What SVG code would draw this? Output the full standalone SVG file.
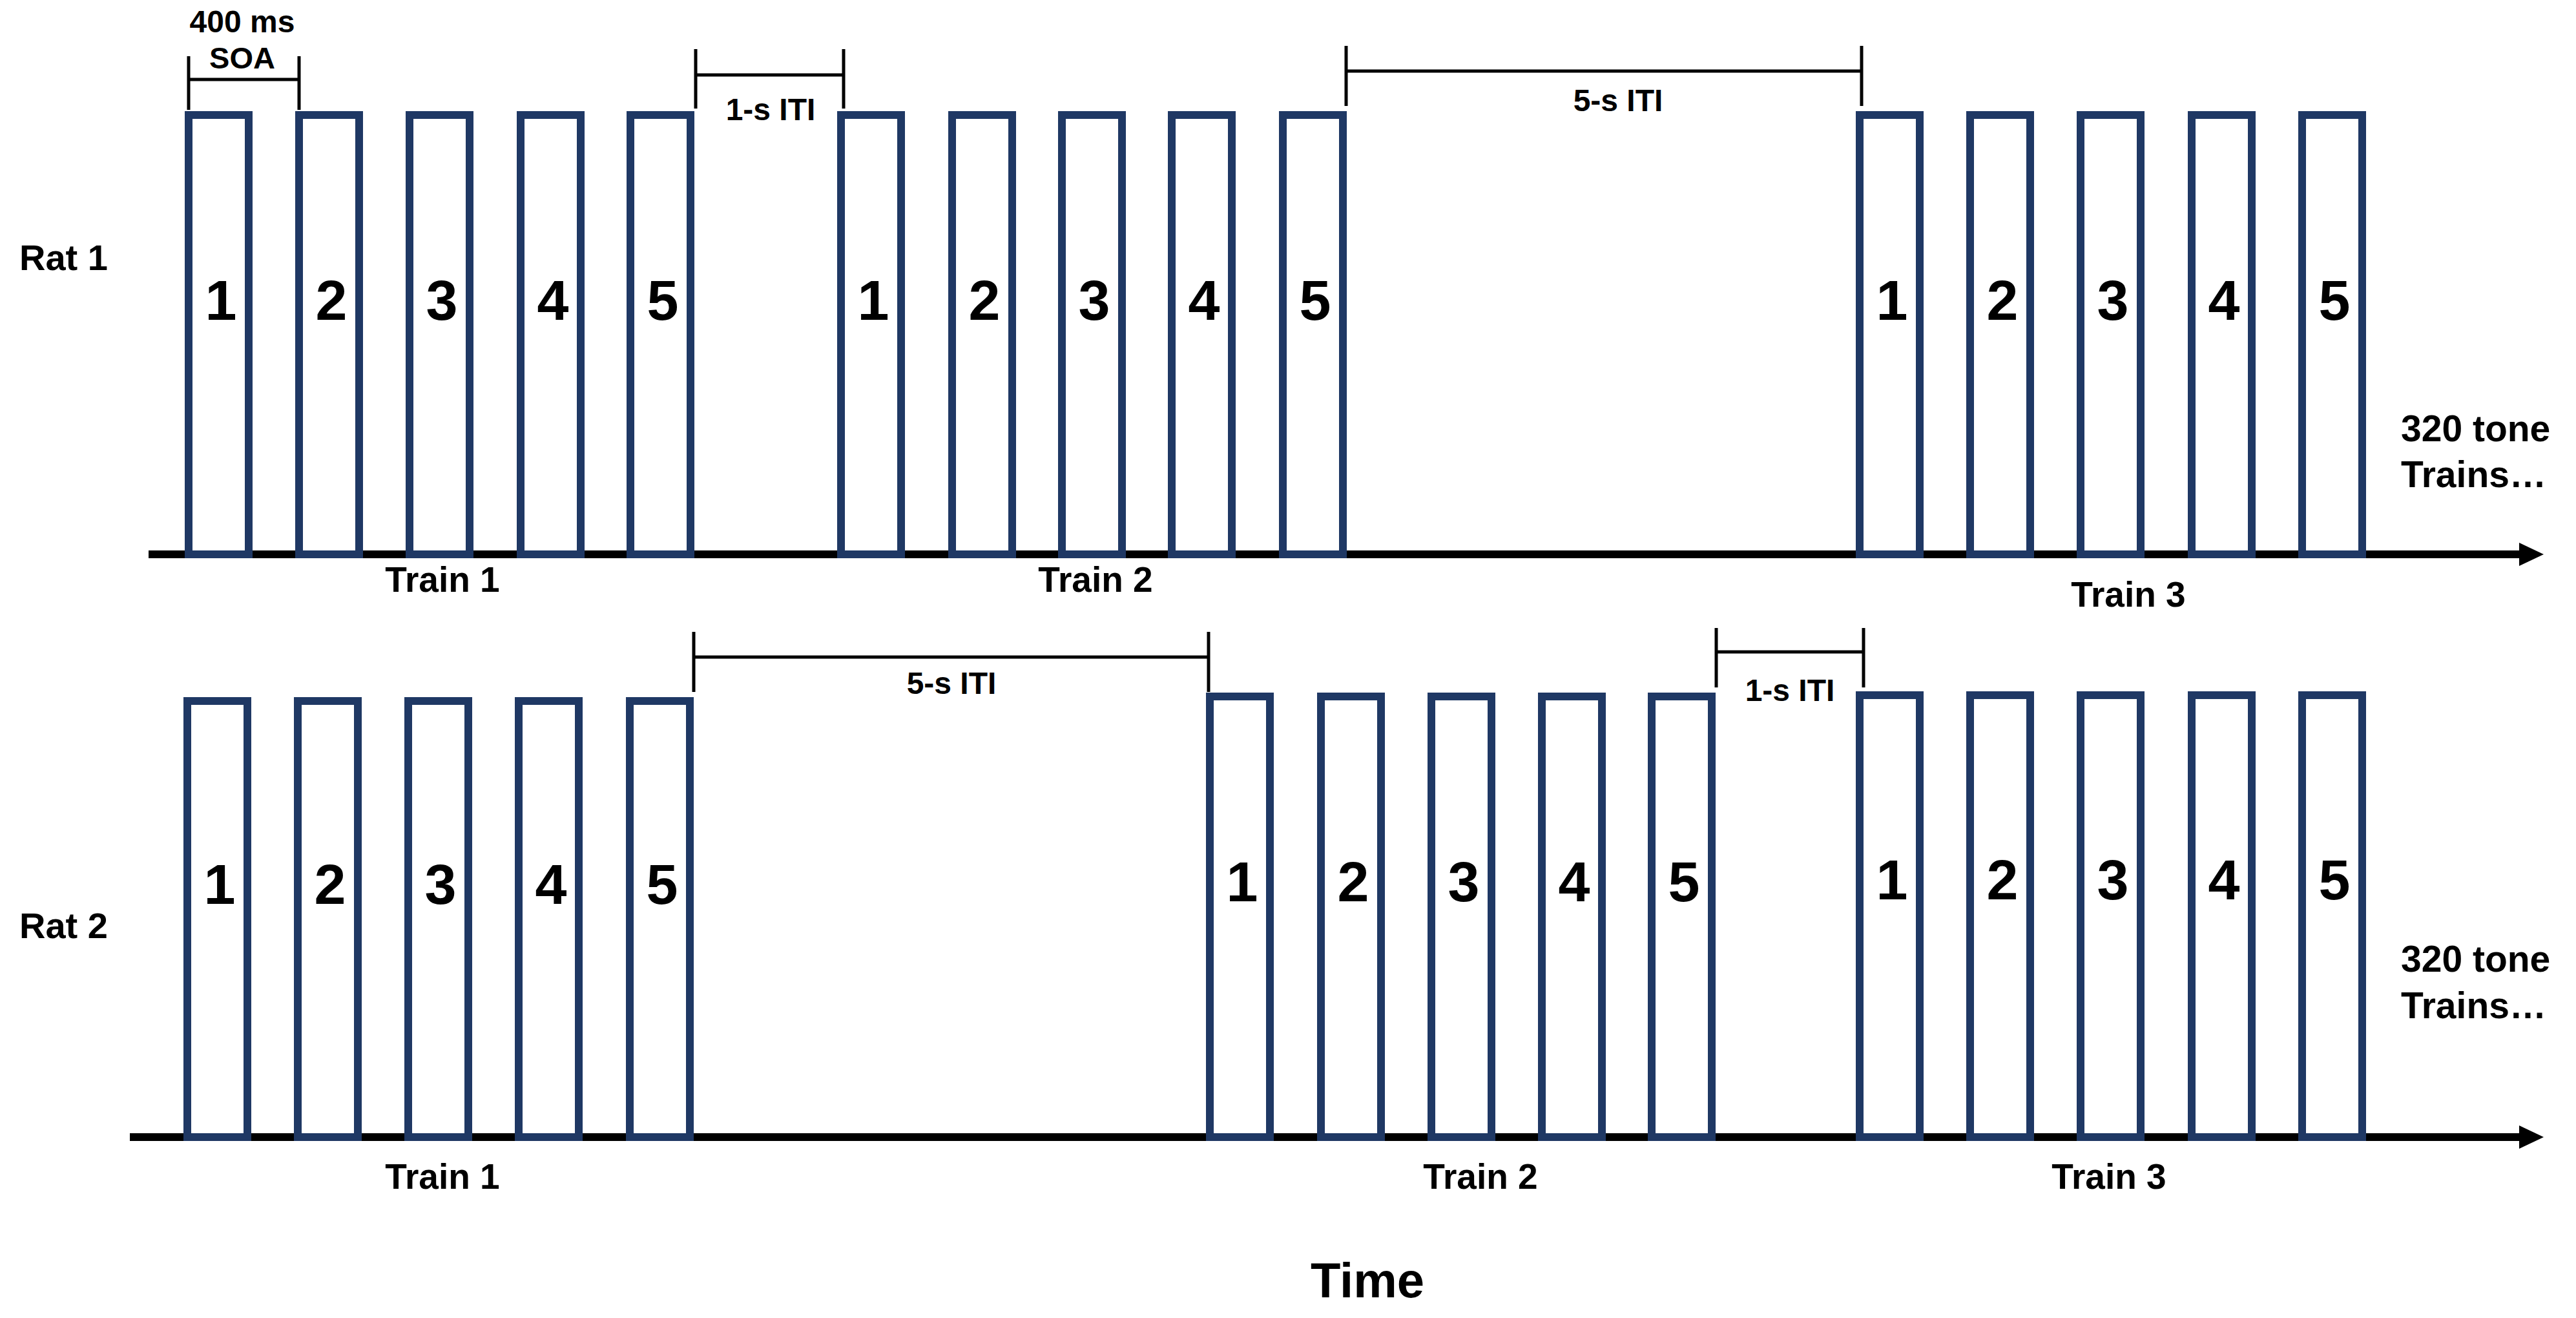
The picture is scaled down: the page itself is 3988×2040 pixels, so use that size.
<svg xmlns="http://www.w3.org/2000/svg" width="3988" height="2040" viewBox="0 0 3988 2040">
<style>
.bx{fill:none;stroke:#1F3864;stroke-width:12}
.t{font-family:"Liberation Sans",Arial,sans-serif;font-weight:bold;fill:#000}
.dg{font-size:88px;text-anchor:middle}
.lb{font-size:48px;text-anchor:middle}
.tr{font-size:55px;text-anchor:middle}
.rt{font-size:56px}
.ax{stroke:#000;stroke-width:12;fill:none}
.br{stroke:#000;stroke-width:5;fill:none}
</style>
<rect width="3988" height="2040" fill="#fff"/>
<g id="connectors">
  <line class="ax" x1="230" y1="858" x2="3905" y2="858"/>
  <polygon points="3900,840 3938,858 3900,876" fill="#000"/>
  <line class="ax" x1="201" y1="1760" x2="3905" y2="1760"/>
  <polygon points="3900,1742 3938,1760 3900,1778" fill="#000"/>
  <path class="br" d="M292,87V170M463,87V170M292,123H463"/>
  <path class="br" d="M1077,76V168M1306,76V168M1077,116H1306"/>
  <path class="br" d="M2084,71V164M2882,71V164M2084,110H2882"/>
  <path class="br" d="M1074,978V1071M1871,978V1071M1074,1017H1871"/>
  <path class="br" d="M2657,972V1064M2885,972V1064M2657,1009H2885"/>
</g>
<g id="labels">
  <text class="t lb" x="375" y="50">400 ms</text>
  <text class="t lb" x="375" y="106" style="font-size:47px">SOA</text>
  <text class="t lb" x="1193" y="186">1-s ITI</text>
  <text class="t lb" x="2505" y="172">5-s ITI</text>
  <text class="t lb" x="1473" y="1074">5-s ITI</text>
  <text class="t lb" x="2771" y="1085">1-s ITI</text>
  <text class="t rt" x="30" y="418">Rat 1</text>
  <text class="t rt" x="30" y="1452">Rat 2</text>
  <text class="t tr" x="685" y="916">Train 1</text>
  <text class="t tr" x="1696" y="916">Train 2</text>
  <text class="t tr" x="3295" y="939">Train 3</text>
  <text class="t tr" x="685" y="1840">Train 1</text>
  <text class="t tr" x="2292" y="1840">Train 2</text>
  <text class="t tr" x="3265" y="1840">Train 3</text>
  <text class="t rt" x="3717" y="683" style="font-size:57px">320 tone</text>
  <text class="t rt" x="3717" y="754" style="font-size:57px">Trains…</text>
  <text class="t rt" x="3717" y="1504" style="font-size:57px">320 tone</text>
  <text class="t rt" x="3717" y="1576" style="font-size:57px">Trains…</text>
  <text class="t" x="2117" y="2008" style="font-size:76px;text-anchor:middle">Time</text>
</g>
<g id="rat1-train1">
  <g id="r1t1b1"><rect class="bx" x="292" y="178" width="93" height="680"/><text class="t dg" x="342" y="495">1</text></g>
  <g id="r1t1b2"><rect class="bx" x="463" y="178" width="93" height="680"/><text class="t dg" x="513" y="495">2</text></g>
  <g id="r1t1b3"><rect class="bx" x="634" y="178" width="93" height="680"/><text class="t dg" x="684" y="495">3</text></g>
  <g id="r1t1b4"><rect class="bx" x="806" y="178" width="93" height="680"/><text class="t dg" x="856" y="495">4</text></g>
  <g id="r1t1b5"><rect class="bx" x="976" y="178" width="93" height="680"/><text class="t dg" x="1026" y="495">5</text></g>
</g>
<g id="rat1-train2">
  <g id="r1t2b1"><rect class="bx" x="1302" y="178" width="93" height="680"/><text class="t dg" x="1352" y="495">1</text></g>
  <g id="r1t2b2"><rect class="bx" x="1474" y="178" width="93" height="680"/><text class="t dg" x="1524" y="495">2</text></g>
  <g id="r1t2b3"><rect class="bx" x="1644" y="178" width="93" height="680"/><text class="t dg" x="1694" y="495">3</text></g>
  <g id="r1t2b4"><rect class="bx" x="1814" y="178" width="93" height="680"/><text class="t dg" x="1864" y="495">4</text></g>
  <g id="r1t2b5"><rect class="bx" x="1986" y="178" width="93" height="680"/><text class="t dg" x="2036" y="495">5</text></g>
</g>
<g id="rat1-train3">
  <g id="r1t3b1"><rect class="bx" x="2879" y="178" width="93" height="680"/><text class="t dg" x="2929" y="495">1</text></g>
  <g id="r1t3b2"><rect class="bx" x="3050" y="178" width="93" height="680"/><text class="t dg" x="3100" y="495">2</text></g>
  <g id="r1t3b3"><rect class="bx" x="3221" y="178" width="93" height="680"/><text class="t dg" x="3271" y="495">3</text></g>
  <g id="r1t3b4"><rect class="bx" x="3393" y="178" width="93" height="680"/><text class="t dg" x="3443" y="495">4</text></g>
  <g id="r1t3b5"><rect class="bx" x="3564" y="178" width="93" height="680"/><text class="t dg" x="3614" y="495">5</text></g>
</g>
<g id="rat2-train1">
  <g id="r2t1b1"><rect class="bx" x="290" y="1085" width="93" height="675"/><text class="t dg" x="340" y="1399">1</text></g>
  <g id="r2t1b2"><rect class="bx" x="461" y="1085" width="93" height="675"/><text class="t dg" x="511" y="1399">2</text></g>
  <g id="r2t1b3"><rect class="bx" x="632" y="1085" width="93" height="675"/><text class="t dg" x="682" y="1399">3</text></g>
  <g id="r2t1b4"><rect class="bx" x="803" y="1085" width="93" height="675"/><text class="t dg" x="853" y="1399">4</text></g>
  <g id="r2t1b5"><rect class="bx" x="975" y="1085" width="93" height="675"/><text class="t dg" x="1025" y="1399">5</text></g>
</g>
<g id="rat2-train2">
  <g id="r2t2b1"><rect class="bx" x="1873" y="1078" width="93" height="682"/><text class="t dg" x="1923" y="1395">1</text></g>
  <g id="r2t2b2"><rect class="bx" x="2045" y="1078" width="93" height="682"/><text class="t dg" x="2095" y="1395">2</text></g>
  <g id="r2t2b3"><rect class="bx" x="2216" y="1078" width="93" height="682"/><text class="t dg" x="2266" y="1395">3</text></g>
  <g id="r2t2b4"><rect class="bx" x="2387" y="1078" width="93" height="682"/><text class="t dg" x="2437" y="1395">4</text></g>
  <g id="r2t2b5"><rect class="bx" x="2557" y="1078" width="93" height="682"/><text class="t dg" x="2607" y="1395">5</text></g>
</g>
<g id="rat2-train3">
  <g id="r2t3b1"><rect class="bx" x="2879" y="1076" width="93" height="684"/><text class="t dg" x="2929" y="1392">1</text></g>
  <g id="r2t3b2"><rect class="bx" x="3050" y="1076" width="93" height="684"/><text class="t dg" x="3100" y="1392">2</text></g>
  <g id="r2t3b3"><rect class="bx" x="3221" y="1076" width="93" height="684"/><text class="t dg" x="3271" y="1392">3</text></g>
  <g id="r2t3b4"><rect class="bx" x="3393" y="1076" width="93" height="684"/><text class="t dg" x="3443" y="1392">4</text></g>
  <g id="r2t3b5"><rect class="bx" x="3564" y="1076" width="93" height="684"/><text class="t dg" x="3614" y="1392">5</text></g>
</g>
</svg>
